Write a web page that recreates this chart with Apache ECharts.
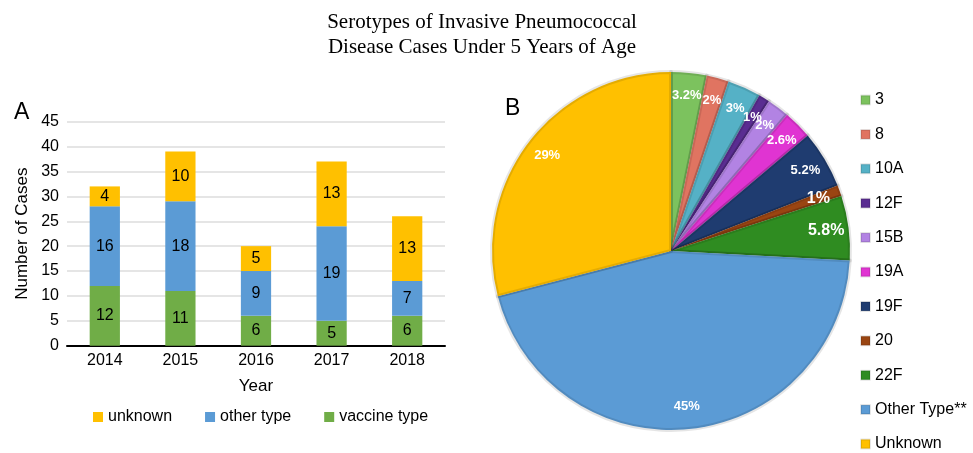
<!DOCTYPE html>
<html>
<head>
<meta charset="utf-8">
<script src="https://cdn.jsdelivr.net/npm/echarts@6/dist/echarts.min.js"></script>
<style>
    html, body { margin: 0; padding: 0; background: #fff; }
    #main { width: 973px; height: 453px; }
</style>
</head>
<body>
<div id="main"></div>
<script>
// 图A：每年病例数（堆叠柱）
const years = ['2014', '2015', '2016', '2017', '2018']
const vaccineType = [12, 11, 6, 5, 6]
const otherType = [16, 18, 9, 19, 7]
const unknownType = [4, 10, 5, 13, 13]

// 图B：血清型占比（%）
const serotypes = ['3', '8', '10A', '12F', '15B', '19A', '19F', '20', '22F', 'Other Type**', 'Unknown']
const serotypeShare = [3.2, 2, 3, 1, 2, 2.6, 5.2, 1, 5.8, 45, 29]
const serotypeColors = ['#7cc25e', '#e07461', '#55b1c6', '#5a2d91', '#b283e3', '#e034d2', '#1f3c70', '#9a4512', '#2f8c21', '#5b9bd5', '#ffc000']

const font = 'Liberation Sans, Arial, sans-serif'

let pieData = serotypes.map((name, i) => ({
    name,
    value: serotypeShare[i],
    itemStyle: { color: serotypeColors[i] },
    label: { fontSize: (name === '20' || name === '22F') ? 16 : 13 }
}))

let myChart = echarts.init(document.getElementById('main'))

let option = {
    backgroundColor: '#fff',
    animation: false,
    title: [
        {
            text: 'Serotypes of Invasive Pneumococcal\nDisease Cases Under 5 Years of Age',
            left: 477,
            top: 5,
            textAlign: 'center',
            textStyle: {
                fontFamily: 'Liberation Serif, Times New Roman, serif',
                fontWeight: 'normal',
                fontSize: 21,
                lineHeight: 25,
                color: '#000'
            }
        },
        {
            text: 'A',
            left: 9,
            top: 96,
            textStyle: { fontFamily: font, fontWeight: 'normal', fontSize: 23, color: '#000' }
        },
        {
            text: 'B',
            left: 500,
            top: 92,
            textStyle: { fontFamily: font, fontWeight: 'normal', fontSize: 23, color: '#000' }
        }
    ],
    legend: [
        {
            data: ['unknown', 'other type', 'vaccine type'],
            left: 88,
            top: 404,
            itemWidth: 10,
            itemHeight: 10,
            itemGap: 33,
            icon: 'rect',
            textStyle: { fontFamily: font, fontSize: 16, color: '#000' }
        },
        {
            data: serotypes,
            orient: 'vertical',
            left: 860,
            top: 92,
            height: 400,
            padding: 0,
            itemWidth: 9,
            itemHeight: 9,
            itemGap: 18.4,
            icon: 'rect',
            textStyle: { fontFamily: font, fontSize: 16, lineHeight: 16, color: '#000' }
        }
    ],
    grid: {
        left: 67,
        right: 528,
        top: 121.7,
        bottom: 107.3,
        containLabel: false
    },
    xAxis: {
        type: 'category',
        data: years,
        name: 'Year',
        nameLocation: 'middle',
        nameGap: 32,
        nameTextStyle: { fontFamily: font, fontSize: 17, color: '#000' },
        axisTick: { show: false },
        axisLine: { lineStyle: { color: '#000', width: 2 } },
        axisLabel: { fontFamily: font, fontSize: 16, color: '#000', margin: 7 }
    },
    yAxis: {
        type: 'value',
        min: 0,
        max: 45,
        interval: 5,
        name: 'Number of Cases',
        nameLocation: 'middle',
        nameGap: 36,
        nameTextStyle: { fontFamily: font, fontSize: 17, color: '#000' },
        axisLine: { show: false },
        axisTick: { show: false },
        axisLabel: { fontFamily: font, fontSize: 16, color: '#000', margin: 8 },
        splitLine: { lineStyle: { color: '#dcdcdc', width: 1.5 } }
    },
    series: [
        {
            name: 'vaccine type',
            type: 'bar',
            stack: 'cases',
            barWidth: '40%',
            data: vaccineType,
            itemStyle: { color: '#70ad47' },
            label: { show: true, position: 'inside', color: '#000', fontFamily: font, fontSize: 16 }
        },
        {
            name: 'other type',
            type: 'bar',
            stack: 'cases',
            data: otherType,
            itemStyle: { color: '#5b9bd5' },
            label: { show: true, position: 'inside', color: '#000', fontFamily: font, fontSize: 16 }
        },
        {
            name: 'unknown',
            type: 'bar',
            stack: 'cases',
            data: unknownType,
            itemStyle: { color: '#ffc000' },
            label: { show: true, position: 'inside', color: '#000', fontFamily: font, fontSize: 16 }
        },
        {
            name: 'serotype',
            type: 'pie',
            center: [671, 251],
            radius: [0, 179],
            startAngle: 90,
            clockwise: true,
            data: pieData.map(d => Object.assign({}, d, { label: { show: false } })),
            itemStyle: { borderColor: 'rgba(0,0,0,0.1)', borderWidth: 4 },
            label: { show: false },
            labelLine: { show: false },
            emphasis: { disabled: true }
        },
        {
            // 只用来把百分比标签放到靠近外圈的位置
            name: 'serotype-label',
            type: 'pie',
            center: [671, 251],
            radius: [128, 179],
            startAngle: 90,
            clockwise: true,
            silent: true,
            avoidLabelOverlap: false,
            labelLayout: { hideOverlap: false },
            data: pieData.map(d => Object.assign({}, d, { itemStyle: { color: 'rgba(0,0,0,0)' } })),
            itemStyle: { borderWidth: 0 },
            label: {
                show: true,
                position: 'inside',
                formatter: '{c}%',
                color: '#fff',
                fontFamily: font,
                fontWeight: 'bold',
                fontSize: 13
            },
            labelLine: { show: false },
            emphasis: { disabled: true }
        }
    ]
}

myChart.setOption(option)
</script>
</body>
</html>
